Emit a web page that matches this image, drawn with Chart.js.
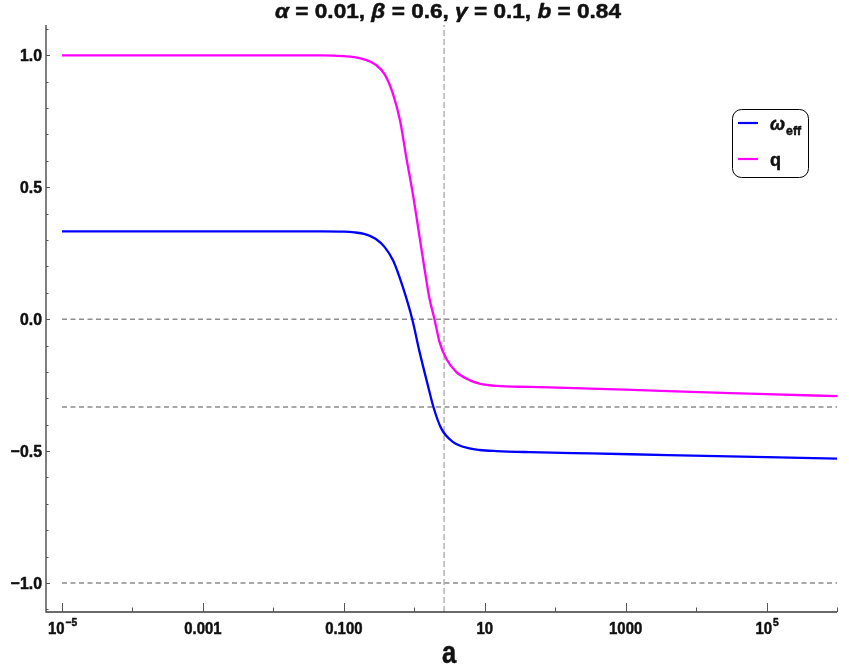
<!DOCTYPE html>
<html><head><meta charset="utf-8">
<script src="https://cdn.jsdelivr.net/npm/chart.js@4.4.1/dist/chart.umd.min.js"></script>
<style>html,body{margin:0;padding:0;background:#fff;overflow:hidden}</style>
</head><body>
<canvas id="c" width="849" height="670"></canvas>
<script>
// ---- data ----
const aW   = [1e-5, 0.001, 0.0501, 0.1, 0.1413, 0.1995, 0.2818, 0.3802, 0.5012, 0.687, 0.936, 1.189, 1.556, 1.875, 2.410, 3.524, 6.081, 8.433, 14.69, 43.25, 316.2, 3981, 1e5, 1e6];
const wEff = [0.333, 0.333, 0.333, 0.332, 0.329, 0.322, 0.305, 0.273, 0.222, 0.122, 0.0, -0.124, -0.25, -0.334, -0.414, -0.465, -0.490, -0.496, -0.500, -0.504, -0.509, -0.515, -0.523, -0.529];
const aQ   = [1e-5, 0.001, 0.0501, 0.1, 0.1413, 0.1995, 0.2818, 0.3802, 0.5012, 0.631, 0.769, 0.953, 1.189, 1.396, 1.644, 1.936, 2.280, 2.838, 3.936, 6.081, 8.433, 14.69, 43.25, 316.2, 3981, 1e5, 1e6];
const qVal = [1.0, 1.0, 1.0, 0.997, 0.993, 0.984, 0.965, 0.928, 0.852, 0.750, 0.615, 0.476, 0.312, 0.192, 0.078, 0.0, -0.086, -0.149, -0.200, -0.231, -0.244, -0.253, -0.257, -0.263, -0.273, -0.284, -0.292];
const refLevels = [0, -1/3, -1];
const refSpan = [1e-5, 1e6];
const aMark = 2.65;
const xRange = [5.93e-6, 1e6];
const yRange = [-1.11, 1.115];
const xMajorTicks = [1e-5, 1e-3, 1e-1, 10, 1000, 1e5];
const xMajorLabels = [['10', '−5'], ['0.001'], ['0.100'], ['10'], ['1000'], ['10', '5']];
const xMinorTicks = [1e-4, 1e-2, 1, 100, 1e4, 1e6];
const yMajorTicks = [1, 0.5, 0, -0.5, -1];
const yMajorLabels = ['1.0', '0.5', '0.0', '−0.5', '−1.0'];
const yMinorTicks = [1.1, 0.9, 0.8, 0.7, 0.6, 0.4, 0.3, 0.2, 0.1, -0.1, -0.2, -0.3, -0.4, -0.6, -0.7, -0.8, -0.9, -1.1];
const titleRuns = [['α', true], [' = 0.01, ', false], ['β', true], [' = 0.6, ', false], ['γ', true], [' = 0.1, ', false], ['b', true], [' = 0.84', false]];
const xTitle = 'a';
const seriesNames = [['ω', 'eff'], ['q', '']];
const seriesColors = ['#0000ff', '#ff00ff'];

// ---- helpers ----
const FAM = '"Liberation Sans", Arial, sans-serif';
function setFont(ctx, size, italic) { ctx.font = (italic ? 'italic ' : '') + 'bold ' + size + 'px ' + FAM; }
function drawTxt(ctx, s, x, y, size, sx, italic, align) {
  ctx.save(); setFont(ctx, size, italic);
  const w = ctx.measureText(s).width * sx;
  let x0 = x; if (align === 'right') x0 = x - w; else if (align === 'center') x0 = x - w / 2;
  ctx.translate(x0, y); ctx.scale(sx, 1); ctx.textAlign = 'left'; ctx.textBaseline = 'alphabetic';
  ctx.fillStyle = '#111'; ctx.strokeStyle = '#111'; ctx.lineWidth = 0.5; ctx.lineJoin = 'round';
  ctx.fillText(s, 0, 0); ctx.strokeText(s, 0, 0); ctx.restore(); return w;
}
function measure(ctx, s, size, italic) { ctx.save(); setFont(ctx, size, italic); const w = ctx.measureText(s).width; ctx.restore(); return w; }

const decor = {
  id: 'decor',
  afterDraw(chart) {
    const ctx = chart.ctx, xs = chart.scales.x, ys = chart.scales.y, ca = chart.chartArea;
    ctx.save();
    ctx.strokeStyle = '#3a3a3a';
    ctx.lineWidth = 1.3;
    ctx.beginPath(); ctx.moveTo(ca.left, ca.top); ctx.lineTo(ca.left, ca.bottom); ctx.lineTo(ca.right, ca.bottom); ctx.stroke();
    ctx.lineWidth = 1;
    ctx.strokeStyle = '#555';
    xMajorTicks.forEach(v => { const p = Math.round(xs.getPixelForValue(v)) + 0.5; ctx.beginPath(); ctx.moveTo(p, ca.bottom); ctx.lineTo(p, ca.bottom - 9); ctx.stroke(); });
    xMinorTicks.forEach(v => { const p = Math.round(xs.getPixelForValue(v)) + 0.5; ctx.beginPath(); ctx.moveTo(p, ca.bottom); ctx.lineTo(p, ca.bottom - 4.5); ctx.stroke(); });
    yMajorTicks.forEach(v => { const p = Math.round(ys.getPixelForValue(v)) + 0.5; ctx.beginPath(); ctx.moveTo(ca.left, p); ctx.lineTo(ca.left + 4, p); ctx.stroke(); });
    yMinorTicks.forEach(v => { const p = Math.round(ys.getPixelForValue(v)) + 0.5; ctx.beginPath(); ctx.moveTo(ca.left, p); ctx.lineTo(ca.left + 2.5, p); ctx.stroke(); });
    const TS = 16, SX = 0.93;
    yMajorTicks.forEach((v, i) => { drawTxt(ctx, yMajorLabels[i], ca.left - 4, ys.getPixelForValue(v) + 6, TS + 1, SX, false, 'right'); });
    xMajorTicks.forEach((v, i) => {
      const p = xs.getPixelForValue(v), lab = xMajorLabels[i];
      if (lab.length === 1) { drawTxt(ctx, lab[0], p, 634, TS, SX, false, 'center'); }
      else {
        const w1 = measure(ctx, lab[0], TS) * SX, w2 = measure(ctx, lab[1], 11) * SX;
        const x0 = p - (w1 + w2) / 2;
        drawTxt(ctx, lab[0], x0, 634, TS, SX, false, 'left');
        drawTxt(ctx, lab[1], x0 + w1 + 1, 626, 11, SX, false, 'left');
      }
    });
    drawTxt(ctx, xTitle, 449, 663, 32, 0.8, false, 'center');
    const TT = 21; let tw = 0;
    titleRuns.forEach(r => tw += measure(ctx, r[0], TT, r[1]));
    const tsx = 346 / tw; let tx = 448 - 346 / 2;
    titleRuns.forEach(r => { tx += drawTxt(ctx, r[0], tx, 18, TT, tsx, r[1], 'left'); });
    ctx.fillStyle = '#fff'; ctx.strokeStyle = '#000'; ctx.lineWidth = 1;
    ctx.beginPath(); ctx.roundRect(732.5, 109.5, 76, 68, 9); ctx.fill(); ctx.stroke();
    const ly = [123, 159];
    seriesNames.forEach((n, i) => {
      ctx.strokeStyle = seriesColors[i]; ctx.lineWidth = 2.2;
      ctx.beginPath(); ctx.moveTo(738, ly[i]); ctx.lineTo(758, ly[i]); ctx.stroke();
      const w = drawTxt(ctx, n[0], 770, ly[i] + 7, 19, 0.95, i === 0, 'left');
      if (n[1]) drawTxt(ctx, n[1], 770 + w + 1, ly[i] + 12, 13, 0.95, false, 'left');
    });
    ctx.restore();
  }
};

const datasets = [
  { data: aW.map((x, i) => ({ x, y: wEff[i] })), borderColor: seriesColors[0], borderWidth: 2.3, pointRadius: 0, cubicInterpolationMode: 'monotone' },
  { data: aQ.map((x, i) => ({ x, y: qVal[i] })), borderColor: seriesColors[1], borderWidth: 2.3, pointRadius: 0, cubicInterpolationMode: 'monotone' }
];
refLevels.forEach(v => datasets.push({ data: refSpan.map(x => ({ x, y: v })), borderColor: '#8c8c8c', borderWidth: 1.5, borderDash: [5, 3.5], pointRadius: 0 }));
datasets.push({ data: yRange.map(y => ({ x: aMark, y })), borderColor: '#b4b4b4', borderWidth: 1.5, borderDash: [6, 3], pointRadius: 0 });

new Chart(document.getElementById('c'), {
  type: 'line',
  data: { datasets },
  options: {
    responsive: false, animation: false, events: [],
    layout: { padding: { left: 46, right: 12, top: 25, bottom: 58 } },
    scales: {
      x: { type: 'logarithmic', min: xRange[0], max: xRange[1], display: false },
      y: { type: 'linear', min: yRange[0], max: yRange[1], display: false }
    },
    plugins: { legend: { display: false }, tooltip: { enabled: false }, title: { display: false } }
  },
  plugins: [decor]
});
</script>
</body></html>
